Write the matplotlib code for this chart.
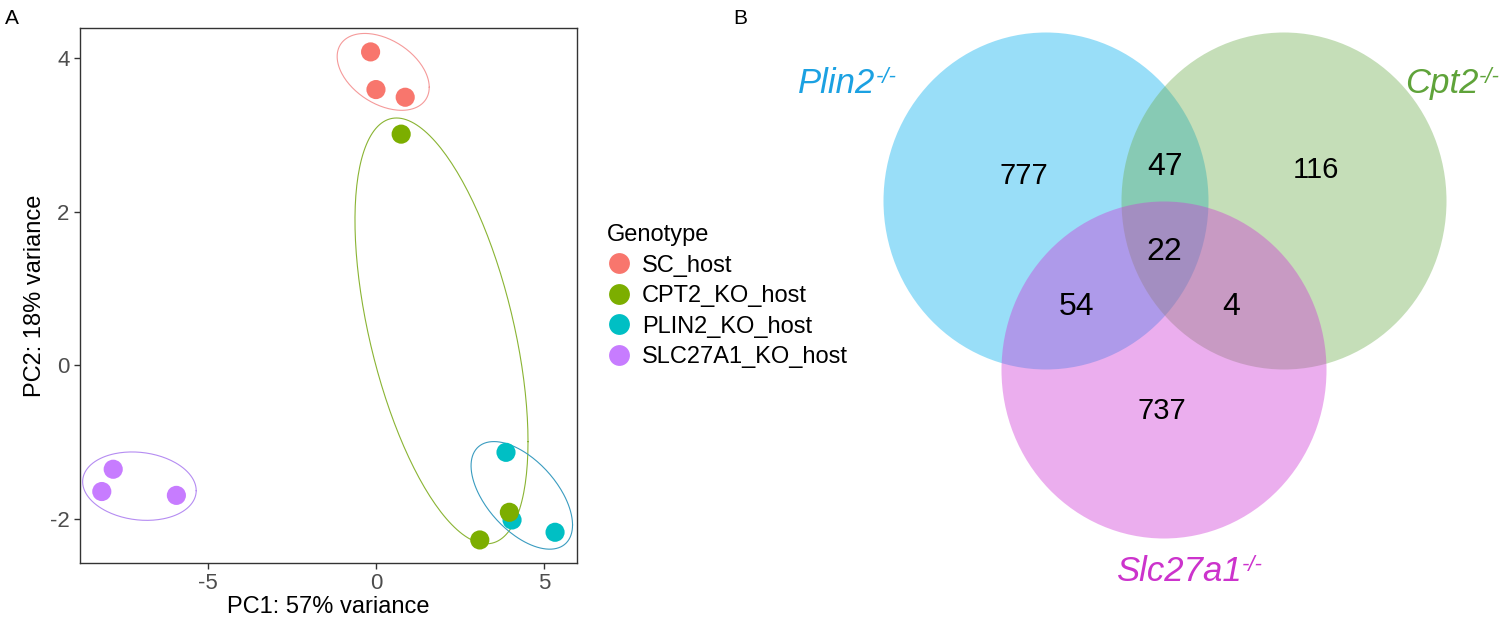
import matplotlib
matplotlib.use('Agg')
import matplotlib.pyplot as plt
import numpy as np
from matplotlib.lines import Line2D
from matplotlib.patches import Ellipse

plt.rcParams['font.family'] = ['Liberation Sans', 'DejaVu Sans']
plt.rcParams['axes.unicode_minus'] = False

# ---- PCA data (panel A) ----
groups = ['SC_host', 'CPT2_KO_host', 'PLIN2_KO_host', 'SLC27A1_KO_host']
colors = ['#F8766D', '#7CAE00', '#00BFC4', '#C77CFF']
ell_colors = ['#F59A9A', '#8AB433', '#3A9CC0', '#B58CF2']
pc1 = {
    'SC_host': [-0.16, 0.00, 0.87],
    'CPT2_KO_host': [0.75, 3.09, 3.97],
    'PLIN2_KO_host': [3.87, 4.05, 5.33],
    'SLC27A1_KO_host': [-7.82, -8.16, -5.94],
}
pc2 = {
    'SC_host': [4.08, 3.59, 3.49],
    'CPT2_KO_host': [3.01, -2.27, -1.91],
    'PLIN2_KO_host': [-1.13, -2.01, -2.17],
    'SLC27A1_KO_host': [-1.35, -1.64, -1.69],
}
# group ellipses: centre, half-range in x / y, correlation
ell_cx = [0.215, 1.95, 4.34, -7.04]
ell_cy = [3.82, 0.45, -1.69, -1.57]
ell_hx = [1.37, 2.575, 1.51, 1.69]
ell_hy = [0.50, 2.77, 0.70, 0.445]
ell_rho = [-0.40, -0.52, -0.55, -0.13]

# ---- Venn counts (panel B) ----
venn_sets = ['Plin2', 'Cpt2', 'Slc27a1']
venn_colors = ['#00AEEF', '#6EAD4E', '#CF35D5']
label_colors = ['#1BA1E2', '#5FA33A', '#CC33CC']
only_plin2, only_cpt2, only_slc = 777, 116, 737
plin2_cpt2, plin2_slc, cpt2_slc, all3 = 47, 54, 4, 22

fig = plt.figure(figsize=(15, 6.17), dpi=100)

ax = fig.add_axes([0.0533, 0.0875, 0.3313, 0.867])
t = np.linspace(0, 2 * np.pi, 200)
for i, ec in enumerate(ell_colors):
    phi = np.arccos(ell_rho[i])
    ex = ell_cx[i] + ell_hx[i] * np.cos(t)
    ey = ell_cy[i] + ell_hy[i] * np.cos(t + phi)
    ax.plot(ex, ey, color=ec, lw=0.8, zorder=1)

draw_order = ['SC_host', 'PLIN2_KO_host', 'CPT2_KO_host', 'SLC27A1_KO_host']
for g in draw_order:
    c = colors[groups.index(g)]
    ax.scatter(pc1[g], pc2[g], s=190, color=c, edgecolors='none', zorder=3)

ax.set_xlim(-8.81, 5.98)
ax.set_ylim(-2.57, 4.39)
ax.set_xticks([-5, 0, 5])
ax.set_yticks([-2, 0, 2, 4])
ax.tick_params(labelsize=16, labelcolor='#4D4D4D', color='#333333', length=4, width=1)
for sp in ax.spines.values():
    sp.set_color('#333333')
    sp.set_linewidth(1)
ax.set_xlabel('PC1: 57% variance', fontsize=17, labelpad=1)
ax.set_ylabel('PC2: 18% variance', fontsize=17, labelpad=3)

handles = [Line2D([], [], marker='o', ls='none', markersize=15, color=c,
                  markeredgewidth=0) for c in colors]
leg = fig.legend(handles, groups, title='Genotype', loc='upper left',
                 bbox_to_anchor=(0.398, 0.652), frameon=False, fontsize=17,
                 title_fontsize=17, handletextpad=0.4, labelspacing=0.36,
                 borderaxespad=0, handlelength=1.1)
leg._legend_box.align = 'left'

# ---- Venn diagram ----
vx = fig.add_axes([0.5, 0, 0.5, 1])
vx.set_xlim(750, 1500)
vx.set_ylim(617, 0)
vx.axis('off')
rx, ry = 162.5, 168.5
centers = [(1046, 201), (1284, 201), (1164, 370)]
for (cx, cy), c in zip(centers, venn_colors):
    vx.add_patch(Ellipse((cx, cy), 2 * rx, 2 * ry, facecolor=c, alpha=0.4,
                         edgecolor='none'))

counts = [only_plin2, plin2_cpt2, only_cpt2, all3, plin2_slc, cpt2_slc, only_slc]
count_pos = [(1024, 184), (1165, 175), (1316, 178), (1164, 260),
             (1077, 315), (1231, 315), (1162, 419)]
count_size = [21, 23, 21, 23, 23, 23, 21]
for n, (px, py), fs in zip(counts, count_pos, count_size):
    vx.text(px, py, str(n), ha='center', va='baseline', fontsize=fs)

label_pos = [(837, 93), (1442, 93), (1179, 581)]
for name, (px, py), c in zip(venn_sets, label_pos, label_colors):
    lab = vx.text(px, py, name, ha='center', va='baseline', fontsize=25,
                  style='italic', color=c)
    vx.annotate('-/-', xy=(1.0, 1.0), xycoords=lab, ha='left', va='top',
                fontsize=16, style='italic', color=c, xytext=(0, 0),
                textcoords='offset points')

fig.text(0.003, 0.985, 'A', fontsize=15, va='top')
fig.text(0.489, 0.985, 'B', fontsize=15, va='top')

fig.savefig('out.png', dpi=100)
